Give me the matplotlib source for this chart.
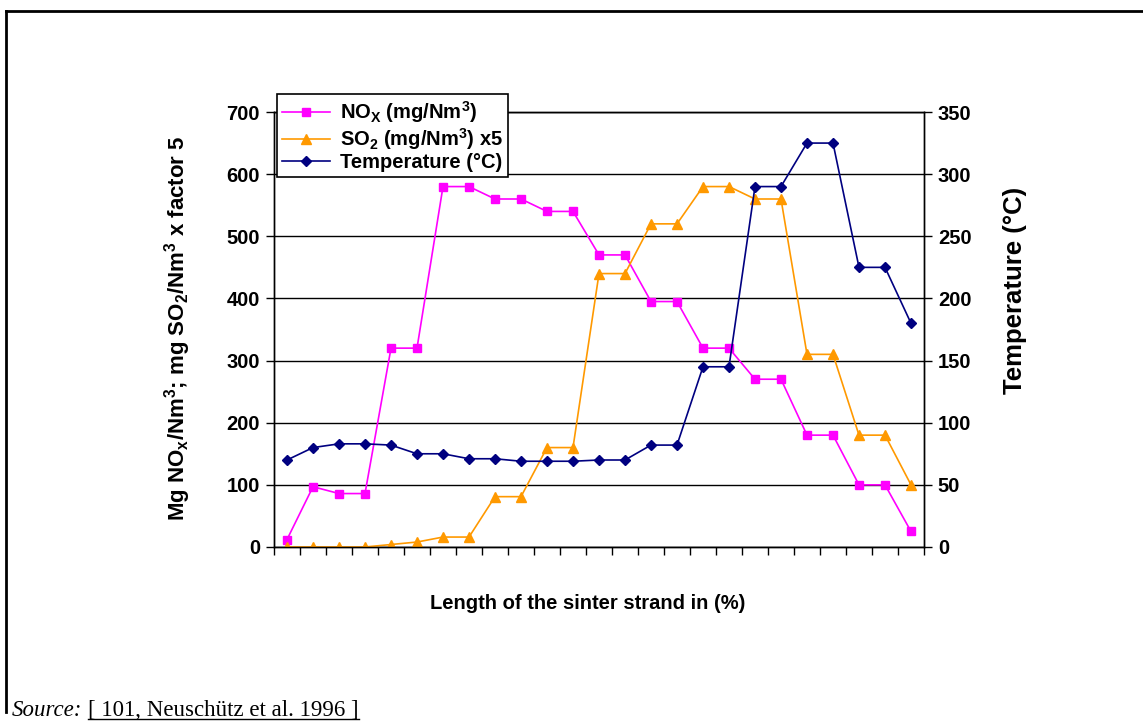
import numpy as np
import matplotlib
matplotlib.use("Agg")
import matplotlib.pyplot as plt
from matplotlib.lines import Line2D

plt.rcParams['font.family'] = ['Liberation Sans', 'DejaVu Sans']
plt.rcParams['font.weight'] = 'bold'
plt.rcParams['mathtext.fontset'] = 'custom'
plt.rcParams['mathtext.rm'] = 'Liberation Sans:bold'
plt.rcParams['mathtext.bf'] = 'Liberation Sans:bold'
plt.rcParams['mathtext.it'] = 'Liberation Sans:bold'
plt.rcParams['mathtext.default'] = 'bf'

# data (25 positions along the strand)
nox = [12, 97, 86, 86, 320, 320, 580, 580, 560, 560, 540, 540, 470,
       470, 395, 395, 320, 320, 270, 270, 180, 180, 100, 100, 25]
so2_x5 = [0, 0, 0, 0, 4, 8, 16, 16, 81, 81, 160, 160, 440,
          440, 520, 520, 580, 580, 560, 560, 310, 310, 180, 180, 100]
temperature = [70, 80, 83, 83, 82, 75, 75, 71, 71, 69, 69, 69, 70,
               70, 82, 82, 145, 145, 290, 290, 325, 325, 225, 225, 180]

left_ticks = [0, 100, 200, 300, 400, 500, 600, 700]
right_ticks = [0, 50, 100, 150, 200, 250, 300, 350]

FS = 14.5

W, H = 1143, 722
fig = plt.figure(figsize=(W / 100, H / 100), dpi=100)
fig.patch.set_facecolor('white')

ax = fig.add_axes([274 / W, 1 - 547 / H, 650 / W, 435 / H])
ax2 = ax.twinx()

x = np.arange(len(nox))
ax.plot(x, nox, color='#FF00FF', lw=1.2, marker='s', ms=6, zorder=3)
ax.plot(x, so2_x5, color='#FF9900', lw=1.2, marker='^', ms=7, zorder=3)
ax2.plot(x, temperature, color='#000080', lw=1.2, marker='D', ms=5.5, zorder=3)

ax.set_xlim(-0.5, len(nox) - 0.5)
ax.set_ylim(0, 700)
ax2.set_ylim(0, 350)
ax.set_xticks(np.arange(-0.5, len(nox)))
ax.set_xticklabels([])
ax.set_yticks(left_ticks)
ax2.set_yticks(right_ticks)
ax.grid(axis='y', color='black', lw=1.0)
ax.set_axisbelow(True)

for a in (ax, ax2):
    for s in a.spines.values():
        s.set_color('black')
        s.set_linewidth(1.0)
    a.tick_params(direction='out', length=6, width=1.0, labelsize=FS, pad=4)
ax.tick_params(axis='x', length=6)

ax.set_xlabel('Length of the sinter strand in (%)', fontsize=FS, fontweight='bold')
ax.xaxis.set_label_coords(0.483, -0.108)
ax.set_ylabel(r'Mg NO$_{x}$/Nm$^{3}$; mg SO$_{2}$/Nm$^{3}$ x factor 5',
              fontsize=16, fontweight='bold')
ax.yaxis.set_label_coords(-0.125, 0.503)
ax2.set_ylabel('Temperature (°C)', fontsize=18.5, fontweight='bold')
ax2.yaxis.set_label_coords(1.1215, 0.59)

handles = [
    Line2D([], [], color='#FF00FF', lw=1.2, marker='s', ms=6),
    Line2D([], [], color='#FF9900', lw=1.2, marker='^', ms=7),
    Line2D([], [], color='#000080', lw=1.2, marker='D', ms=5.5),
]
labels = [r'NO$_{X}$ (mg/Nm$^{3}$)', r'SO$_{2}$ (mg/Nm$^{3}$) x5', 'Temperature (°C)']
leg = fig.legend(handles, labels, loc='upper left',
                 bbox_to_anchor=(277 / W, 1 - 94 / H), borderaxespad=0,
                 fancybox=False, framealpha=1, edgecolor='black',
                 prop={'size': FS, 'weight': 'bold'}, handlelength=2.4,
                 handletextpad=0.5, labelspacing=0.05, borderpad=0.25)
leg.get_frame().set_linewidth(1.2)

# outer frame
fig.add_artist(Line2D([6 / W, 6 / W], [1 - 11 / H, 1 - 712 / H], color='black', lw=2,
                      transform=fig.transFigure))
fig.add_artist(Line2D([6 / W, 1], [1 - 11 / H, 1 - 11 / H], color='black', lw=2,
                      transform=fig.transFigure))

# source line
t1 = fig.text(12 / W, 1 - 716 / H, 'Source:', family='Liberation Serif',
              style='italic', weight='normal', fontsize=16.5, va='baseline')
fig.canvas.draw()
bb = t1.get_window_extent()
x2 = bb.x1 + 6
t2 = fig.text(x2 / W, 1 - 716 / H, '[ 101, Neuschütz et al. 1996 ]',
              family='Liberation Serif', weight='normal', fontsize=16.5, va='baseline')
fig.canvas.draw()
bb2 = t2.get_window_extent()
fig.add_artist(Line2D([bb2.x0 / W, bb2.x1 / W], [1 - 719 / H, 1 - 719 / H],
                      color='black', lw=1.0, transform=fig.transFigure))

fig.savefig('out.png', dpi=100)
